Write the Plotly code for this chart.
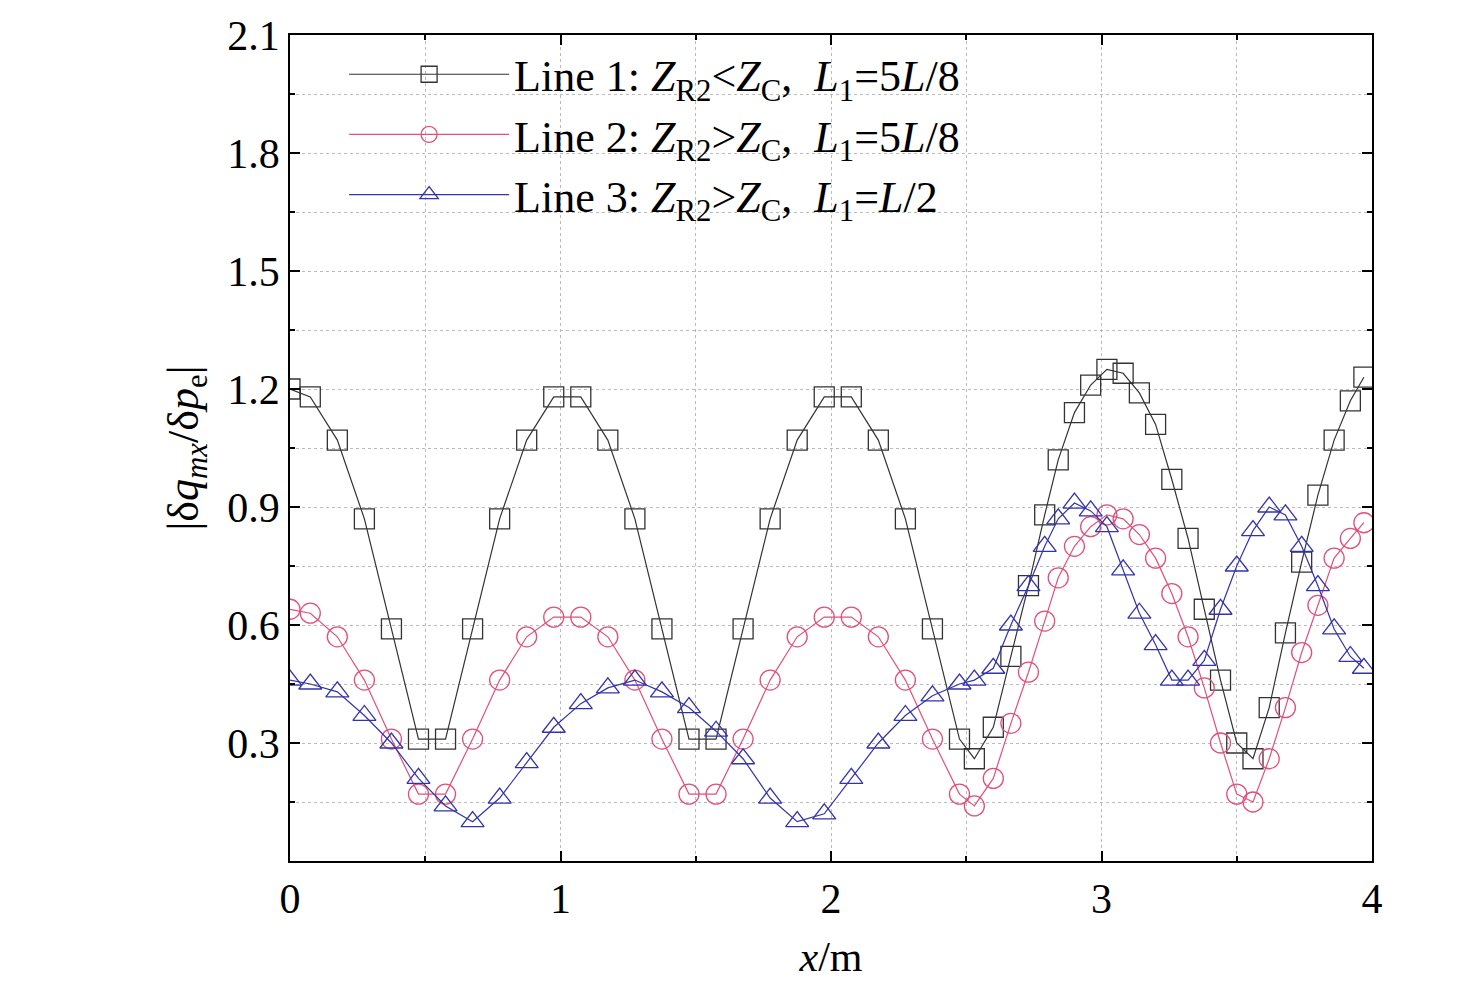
import plotly.graph_objects as go

x_early = [0, 0.075, 0.175, 0.275, 0.375, 0.475, 0.575, 0.675, 0.775, 0.875, 0.975, 1.075, 1.175,
           1.275, 1.375, 1.475, 1.575, 1.675, 1.775, 1.875, 1.975, 2.075, 2.175, 2.275, 2.375, 2.475]
x_late = [2.53, 2.6, 2.665, 2.73, 2.79, 2.84, 2.90, 2.96, 3.02, 3.08, 3.14, 3.20, 3.26,
          3.32, 3.38, 3.44, 3.50, 3.56, 3.62, 3.68, 3.74, 3.80, 3.86, 3.92, 3.97]
x_all = x_early + x_late

line1 = [1.20, 1.18, 1.07, 0.87, 0.59, 0.31, 0.31, 0.59, 0.87, 1.07, 1.18, 1.18, 1.07,
         0.87, 0.59, 0.31, 0.31, 0.59, 0.87, 1.07, 1.18, 1.18, 1.07, 0.87, 0.59, 0.31,
         0.26, 0.34, 0.52, 0.70, 0.88, 1.02, 1.14, 1.21, 1.25, 1.24, 1.19, 1.11, 0.97,
         0.82, 0.64, 0.46, 0.30, 0.26, 0.39, 0.58, 0.76, 0.93, 1.07, 1.17, 1.23]
line2 = [0.64, 0.63, 0.57, 0.46, 0.31, 0.17, 0.17, 0.31, 0.46, 0.57, 0.62, 0.62, 0.57,
         0.46, 0.31, 0.17, 0.17, 0.31, 0.46, 0.57, 0.62, 0.62, 0.57, 0.46, 0.31, 0.17,
         0.14, 0.21, 0.35, 0.48, 0.61, 0.72, 0.80, 0.85, 0.88, 0.87, 0.83, 0.77, 0.68,
         0.57, 0.44, 0.30, 0.17, 0.15, 0.26, 0.39, 0.53, 0.65, 0.77, 0.82, 0.86]
line3 = [0.46, 0.45, 0.43, 0.37, 0.30, 0.21, 0.14, 0.10, 0.16, 0.25, 0.34, 0.40, 0.44,
         0.46, 0.43, 0.39, 0.33, 0.26, 0.16, 0.10, 0.12, 0.21, 0.30, 0.37, 0.42, 0.45,
         0.46, 0.49, 0.60, 0.70, 0.80, 0.87, 0.91, 0.89, 0.85, 0.74, 0.63, 0.55, 0.46,
         0.46, 0.51, 0.64, 0.75, 0.84, 0.90, 0.88, 0.80, 0.70, 0.59, 0.52, 0.49]

names = ["Line 1: <i>Z</i><sub>R2</sub><<i>Z</i><sub>C</sub>,  <i>L</i><sub>1</sub>=5<i>L</i>/8",
         "Line 2: <i>Z</i><sub>R2</sub>><i>Z</i><sub>C</sub>,  <i>L</i><sub>1</sub>=5<i>L</i>/8",
         "Line 3: <i>Z</i><sub>R2</sub>><i>Z</i><sub>C</sub>,  <i>L</i><sub>1</sub>=<i>L</i>/2"]
colors = ["#333333", "#e0507a", "#3333aa"]
symbols = ["square-open", "circle-open", "triangle-up-open"]

fig = go.Figure()
for y, n, c, s in zip([line1, line2, line3], names, colors, symbols):
    fig.add_trace(go.Scatter(x=x_all, y=y, name=n, mode="lines+markers",
                             line=dict(color=c, width=1.2),
                             marker=dict(symbol=s, size=20, color=c, line=dict(width=1.3, color=c))))

font = "Liberation Serif, Times New Roman, serif"
fig.update_layout(
    width=1476, height=1006, plot_bgcolor="white", paper_bgcolor="white",
    margin=dict(l=282, r=112, t=27, b=153, autoexpand=False),
    font=dict(family=font, size=42, color="black"),
    legend=dict(x=0.05, y=0.995, xanchor="left", yanchor="top", bgcolor="rgba(0,0,0,0)",
                itemwidth=160, font=dict(size=44), tracegroupgap=0),
    showlegend=True,
)
axis_common = dict(showline=True, linecolor="black", linewidth=1.5, mirror="allticks",
                   ticks="inside", ticklen=10, tickwidth=1.5, tickcolor="black",
                   showgrid=True, gridcolor="#bbbbbb", griddash="dot", gridwidth=1.2,
                   zeroline=False, tickfont=dict(size=42), automargin=False)
fig.update_xaxes(range=[0, 4], dtick=1, title=dict(text="<i>x</i>/m", font=dict(size=42), standoff=20),
                 minor=dict(dtick=0.5, ticks="inside", ticklen=5, showgrid=True,
                            gridcolor="#bbbbbb", griddash="dot"), **axis_common)
fig.update_yaxes(range=[0, 2.1], tickvals=[0.3, 0.6, 0.9, 1.2, 1.5, 1.8, 2.1],
                 ticktext=["0.3", "0.6", "0.9", "1.2", "1.5", "1.8", "2.1"],
                 title=dict(text="|δ<i>q</i><sub><i>mx</i></sub>/δ<i>p</i><sub>e</sub>|", font=dict(size=44), standoff=15),
                 minor=dict(tickvals=[0.15, 0.45, 0.75, 1.05, 1.35, 1.65, 1.95], ticks="inside", ticklen=5,
                            showgrid=True, gridcolor="#bbbbbb", griddash="dot"), **axis_common)
fig.write_html("out.html")
